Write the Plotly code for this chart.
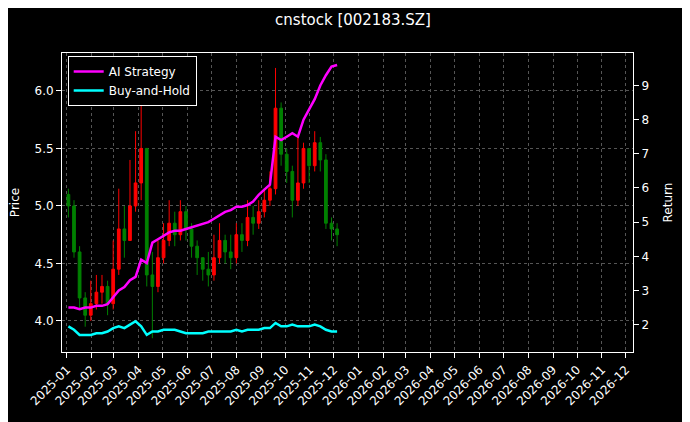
import pandas as pd
import plotly.graph_objects as go

dates = pd.date_range('2025-01-03', periods=49, freq='7D')

close = [5.00, 4.60, 4.20, 4.05, 4.15, 4.25, 4.30, 4.15, 4.45, 4.80, 4.70, 5.00, 5.20,
         5.50, 4.40, 4.30, 4.55, 4.70, 4.85, 4.75, 4.95, 4.80, 4.65, 4.55, 4.45,
         4.40, 4.55, 4.70, 4.60, 4.55, 4.75, 4.70, 4.90, 4.85, 4.95, 5.05, 5.15, 5.85,
         5.45, 5.30, 5.05, 5.20, 5.50, 5.35, 5.55, 5.40, 4.85, 4.80, 4.75]
high = [5.15, 5.05, 4.65, 4.25, 4.35, 4.40, 4.40, 4.35, 4.70, 5.15, 5.00, 5.40, 5.65,
        5.90, 5.50, 4.60, 4.70, 4.85, 5.05, 4.95, 5.05, 5.00, 4.85, 4.70, 4.55,
        4.60, 4.75, 4.85, 4.75, 4.75, 4.85, 4.85, 5.05, 5.00, 5.05, 5.15, 5.30, 6.20,
        5.90, 5.50, 5.35, 5.60, 5.55, 5.50, 5.65, 5.60, 5.45, 4.90, 4.85]
low = [4.90, 4.55, 4.10, 3.95, 4.00, 4.10, 4.15, 4.05, 4.10, 4.40, 4.55, 4.70, 4.95,
       5.05, 4.30, 3.85, 4.25, 4.50, 4.65, 4.65, 4.70, 4.70, 4.55, 4.40, 4.35,
       4.30, 4.35, 4.50, 4.50, 4.45, 4.50, 4.60, 4.65, 4.75, 4.80, 4.90, 5.00, 5.10,
       5.35, 5.20, 4.90, 5.00, 5.15, 5.20, 5.30, 5.30, 4.80, 4.70, 4.65]
open_ = [5.10] + close[:-1]

ai_strategy = [2.50, 2.50, 2.45, 2.50, 2.50, 2.55, 2.55, 2.60, 2.80, 3.00, 3.10, 3.30, 3.40,
               3.90, 3.80, 4.40, 4.50, 4.60, 4.70, 4.75, 4.75, 4.80, 4.85, 4.90, 4.95,
               5.00, 5.10, 5.20, 5.30, 5.35, 5.45, 5.45, 5.50, 5.60, 5.80, 5.95, 6.10, 7.50,
               7.40, 7.50, 7.60, 7.50, 8.00, 8.30, 8.60, 9.00, 9.30, 9.55, 9.60]
buy_hold = [1.95, 1.85, 1.70, 1.70, 1.70, 1.75, 1.75, 1.80, 1.90, 1.95, 1.90, 2.00, 2.10,
            1.95, 1.70, 1.80, 1.80, 1.85, 1.85, 1.85, 1.80, 1.75, 1.75, 1.75, 1.75,
            1.80, 1.80, 1.80, 1.80, 1.80, 1.85, 1.80, 1.85, 1.85, 1.85, 1.90, 1.90, 2.05,
            1.95, 1.95, 2.00, 1.95, 1.95, 1.95, 2.00, 1.95, 1.85, 1.80, 1.80]

tick_dates = pd.date_range('2025-01-01', '2026-12-01', freq='MS')

fig = go.Figure()
fig.add_trace(go.Candlestick(x=dates, open=open_, high=high, low=low, close=close,
                             increasing=dict(line=dict(color='red', width=1), fillcolor='red'),
                             decreasing=dict(line=dict(color='green', width=1), fillcolor='green'),
                             showlegend=False, whiskerwidth=0))
fig.add_trace(go.Scatter(x=dates, y=ai_strategy, name='AI Strategy', yaxis='y2',
                         line=dict(color='magenta', width=2.5)))
fig.add_trace(go.Scatter(x=dates, y=buy_hold, name='Buy-and-Hold', yaxis='y2',
                         line=dict(color='cyan', width=2.5)))

grid = dict(showgrid=True, gridcolor='#555', griddash='dot', gridwidth=0.5)
fig.update_layout(
    width=690, height=422,
    paper_bgcolor='black', plot_bgcolor='black',
    font=dict(family='DejaVu Sans', color='white', size=12),
    title=dict(text='cnstock [002183.SZ]', x=0.5, y=0.985, yanchor='top', font=dict(size=15)),
    margin=dict(l=54, r=65, t=45, b=78, autoexpand=False),
    xaxis=dict(range=['2024-12-26', '2026-12-10'], tickvals=tick_dates,
               ticktext=[d.strftime('%Y-%m') for d in tick_dates], tickangle=-45,
               rangeslider=dict(visible=False), showline=True, linecolor='white',
               mirror=True, ticks='outside', tickcolor='white', zeroline=False,
               automargin=False, **grid),
    yaxis=dict(title=dict(text='Price', font=dict(size=12)), range=[3.73, 6.33],
               tickvals=[4.0, 4.5, 5.0, 5.5, 6.0], automargin=False,
               tickformat='.1f', showline=True, linecolor='white', ticks='outside',
               tickcolor='white', zeroline=False, **grid),
    yaxis2=dict(title=dict(text='Return', font=dict(size=12)), overlaying='y', side='right',
                range=[1.2, 9.95], automargin=False,
                tickvals=list(range(2, 10)), showgrid=False, showline=True,
                linecolor='white', ticks='outside', tickcolor='white', zeroline=False),
    legend=dict(x=0.01, y=0.99, bgcolor='black', bordercolor='white', borderwidth=1,
                font=dict(size=12)),
)

fig.write_html("out.html")
